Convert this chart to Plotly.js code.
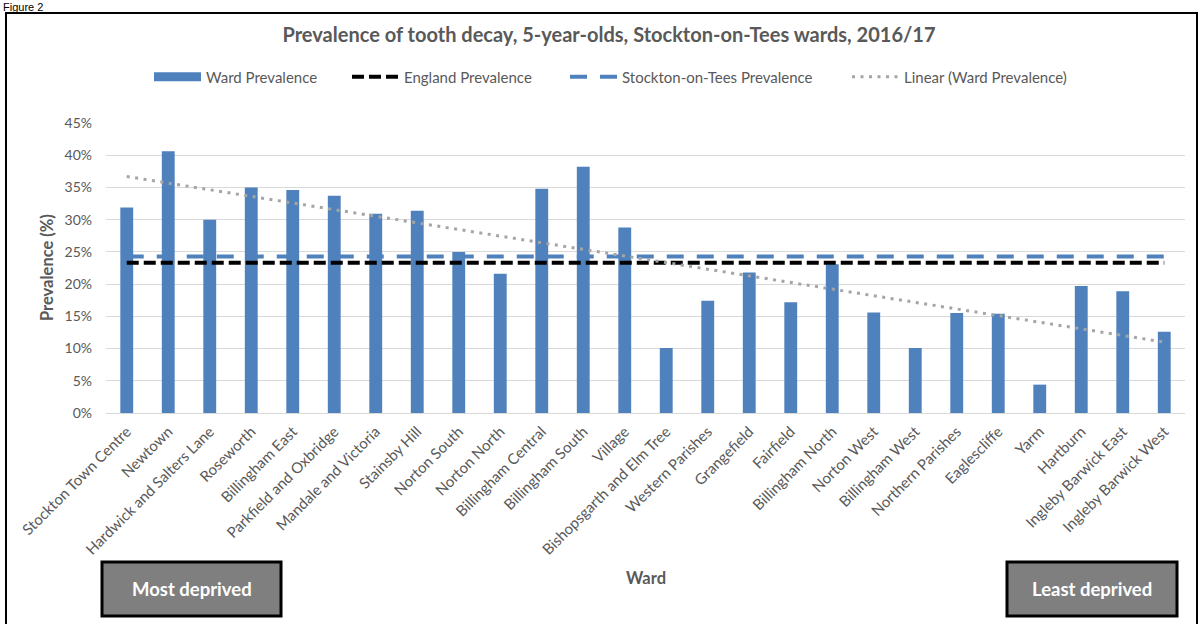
<!DOCTYPE html>
<html>
<head>
<meta charset="utf-8">
<script src="https://cdn.plot.ly/plotly-3.0.1.min.js"></script>
<style>
html,body{margin:0;padding:0;background:#fff;}
#chart{width:1203px;height:624px;}
</style>
</head>
<body>
<div id="chart"></div>
<script>
// ---- data ----
const wards = ["Stockton Town Centre","Newtown","Hardwick and Salters Lane","Roseworth","Billingham East",
  "Parkfield and Oxbridge","Mandale and Victoria","Stainsby Hill","Norton South","Norton North",
  "Billingham Central","Billingham South","Village","Bishopsgarth and Elm Tree","Western Parishes",
  "Grangefield","Fairfield","Billingham North","Norton West","Billingham West","Northern Parishes",
  "Eaglescliffe","Yarm","Hartburn","Ingleby Barwick East","Ingleby Barwick West"];
const wardPrevalence = [31.9,40.6,30.0,35.0,34.6,33.7,30.9,31.4,25.0,21.6,34.8,38.2,28.8,10.1,17.4,
  21.8,17.2,23.1,15.6,10.1,15.5,15.4,4.4,19.7,18.9,12.6];
const englandPrevalence = 23.3;
const stocktonPrevalence = 24.3;
const trendEnds = [36.7, 11.0];   // linear trend at first and last ward
const yTickVals = [0,5,10,15,20,25,30,35,40,45];
const yTickText = ["0%","5%","10%","15%","20%","25%","30%","35%","40%","45%"];

const BLUE = '#4F81BD';
const GREY = '#595959';
const FONT = 'Lato, Calibri, "Open Sans", sans-serif';
const ends = [wards[0], wards[wards.length-1]];

const traces = [
  {type:'bar', x:wards, y:wardPrevalence, marker:{color:BLUE}, showlegend:false, hoverinfo:'x+y'},
  {type:'scatter', mode:'lines', x:ends, y:[stocktonPrevalence, stocktonPrevalence],
   name:'Stockton-on-Tees Prevalence', legend:'legend3', line:{color:BLUE, width:4, dash:'17px,13px'}},
  {type:'scatter', mode:'lines', x:ends, y:[englandPrevalence, englandPrevalence],
   name:'England Prevalence', legend:'legend2', line:{color:'#000', width:4, dash:'12px,5px'}},
  {type:'scatter', mode:'lines', x:ends, y:trendEnds,
   name:'Linear (Ward Prevalence)', legend:'legend4', line:{color:'#A5A5A5', width:3, dash:'3px,5.5px'}},
  {type:'scatter', mode:'lines', x:[wards[0]], y:[null], name:'Ward Prevalence', legend:'legend',
   line:{color:BLUE, width:9}}
];

// pixel helpers for paper coords
const L=106, R=1185, T=123, B=413;
const px = v => (v-L)/(R-L);
const py = v => (B-v)/(B-T);

const legendBase = (xPix) => ({orientation:'h', x:px(xPix), xanchor:'left', y:py(77), yanchor:'middle',
  font:{size:15, color:GREY}, itemwidth:47, bgcolor:'rgba(0,0,0,0)'});

const layout = {
  width:1203, height:624,
  margin:{l:L, r:1203-R, t:T, b:624-B},
  paper_bgcolor:'#fff', plot_bgcolor:'#fff',
  font:{family:FONT, color:GREY, size:13},
  title:{text:'<b>Prevalence of tooth decay, 5-year-olds, Stockton-on-Tees wards, 2016/17</b>',
    font:{family:FONT, size:20, color:GREY}, x:609/1203, xanchor:'center', y:1-35/624, yanchor:'middle'},
  bargap:0.69,
  xaxis:{type:'category', tickangle:-45, tickfont:{size:15, color:GREY}, showgrid:false,
    showline:true, linecolor:'#D9D9D9', linewidth:1, ticks:'', automargin:false, ticklabelstandoff:3},
  yaxis:{range:[0,45], tickvals:yTickVals, ticktext:yTickText, showgrid:true, gridcolor:'#D9D9D9',
    gridwidth:1, zeroline:false, ticks:'', tickfont:{size:14, color:GREY}, automargin:false,
    ticklabelstandoff:13},
  showlegend:true,
  legend:legendBase(149),
  legend2:legendBase(347),
  legend3:legendBase(565),
  legend4:legendBase(847),
  shapes:[
    {type:'rect', xref:'paper', yref:'paper', x0:px(6), x1:px(1197), y0:py(640), y1:py(13),
     line:{color:'#000', width:2}, fillcolor:'rgba(0,0,0,0)', layer:'above'},
    {type:'rect', xref:'paper', yref:'paper', x0:px(102), x1:px(281), y0:py(616), y1:py(562),
     line:{color:'#000', width:3}, fillcolor:'#7F7F7F'},
    {type:'rect', xref:'paper', yref:'paper', x0:px(1007), x1:px(1177), y0:py(616), y1:py(562),
     line:{color:'#000', width:3}, fillcolor:'#7F7F7F'}
  ],
  annotations:[
    {text:'<b>Prevalence (%)</b>', xref:'paper', yref:'paper', x:px(47), y:py(268), textangle:-90,
     xanchor:'center', yanchor:'middle', showarrow:false, font:{size:16.5, color:GREY}},
    {text:'<b>Ward</b>', xref:'paper', yref:'paper', x:px(646), y:py(578),
     xanchor:'center', yanchor:'middle', showarrow:false, font:{size:16.5, color:GREY}},
    {text:'<b>Most deprived</b>', xref:'paper', yref:'paper', x:px(191.5), y:py(589),
     xanchor:'center', yanchor:'middle', showarrow:false, font:{size:18.5, color:'#fff'}},
    {text:'<b>Least deprived</b>', xref:'paper', yref:'paper', x:px(1092), y:py(589),
     xanchor:'center', yanchor:'middle', showarrow:false, font:{size:18.5, color:'#fff'}},
    {text:'Figure 2', xref:'paper', yref:'paper', x:px(2), y:py(7), xanchor:'left', yanchor:'middle',
     showarrow:false, borderpad:0, font:{family:'Liberation Sans, Arial, sans-serif', size:11, color:'#000'}}
  ]
};

Plotly.newPlot('chart', traces, layout, {displayModeBar:false, staticPlot:true});
</script>
</body>
</html>
